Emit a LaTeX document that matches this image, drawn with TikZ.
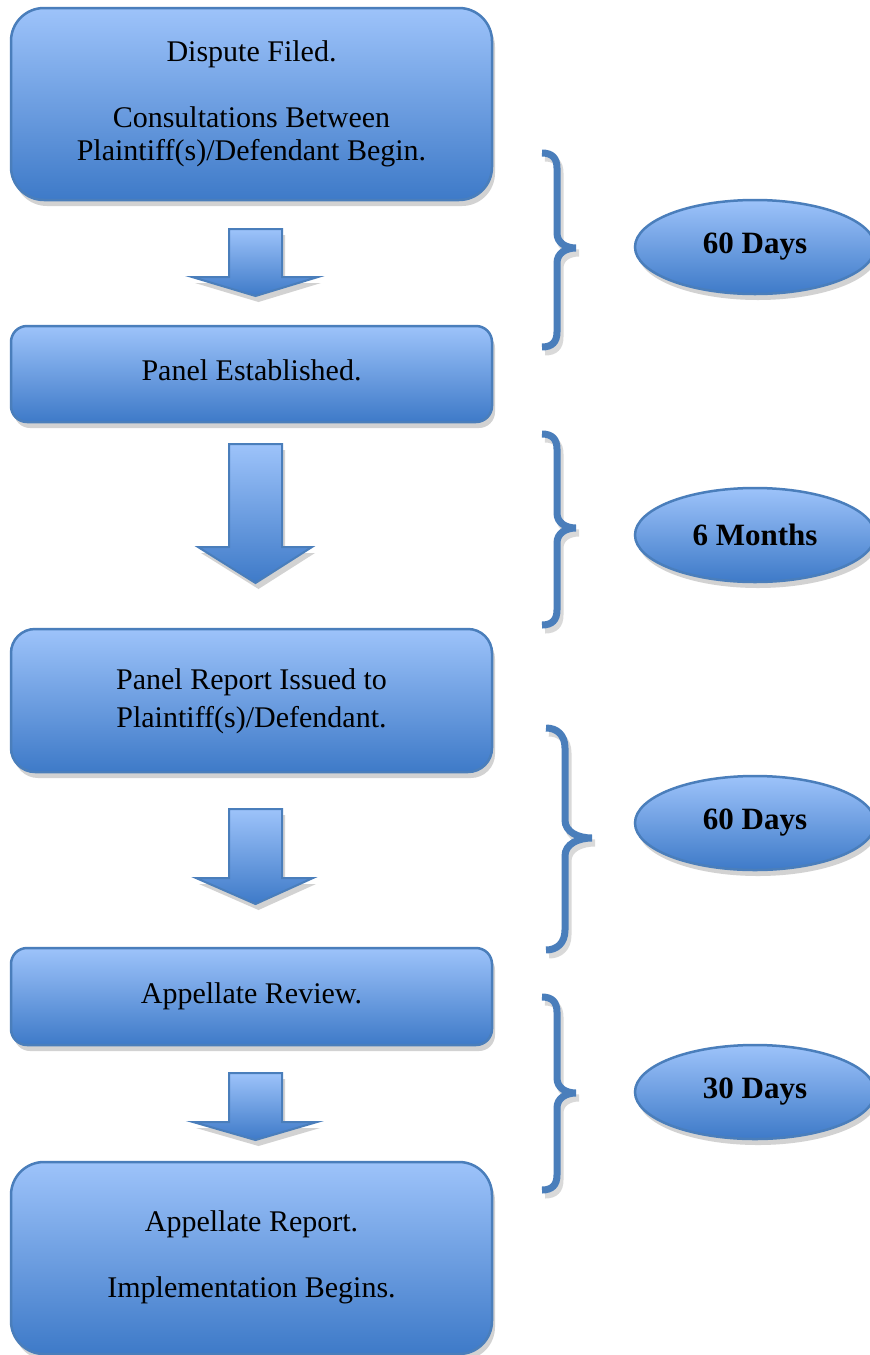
\documentclass[tikz,border=0pt]{standalone}
\usepackage{fontspec}
\setmainfont{Liberation Serif}
\usetikzlibrary{shapes.geometric,shadows}
\definecolor{edgeblue}{RGB}{74,126,187}
\definecolor{topblue}{RGB}{157,195,250}
\definecolor{botblue}{RGB}{62,122,200}
\tikzset{
  boxshadow/.style={drop shadow={shadow xshift=3pt,shadow yshift=-6pt,opacity=0.25,fill=black!70}},
  stepbox/.style={draw=edgeblue,line width=2.5pt,top color=topblue,bottom color=botblue,
    minimum width=481pt,inner sep=0pt,align=center,boxshadow,
    font=\fontsize{30}{33}\selectfont},
  timeoval/.style={ellipse,draw=edgeblue,line width=2.5pt,top color=topblue,bottom color=botblue,
    minimum width=240pt,minimum height=94pt,inner sep=0pt,boxshadow,
    font=\fontsize{31}{33}\selectfont\bfseries},
  blockarrow/.style={draw=edgeblue,line width=2pt,top color=topblue,bottom color=botblue,
    line join=miter,boxshadow},
  bracepath/.style={draw=edgeblue,line width=7pt},
  braceshadow/.style={draw=black,opacity=0.15,line width=7pt}
}
\newcommand\boxtext[2]{\raisebox{#1}{\begin{tabular}{@{}c@{}}#2\end{tabular}}}
\newcommand\mybraces[1]{%
  \path[#1] (542,153) .. controls (552,153) and (557,158) .. (557,168) -- (557,233)
     .. controls (557,243) and (566,248) .. (576,248)
     .. controls (566,248) and (557,253) .. (557,263) -- (557,332)
     .. controls (557,342) and (552,347) .. (542,347);
  \path[#1] (542,434) .. controls (552,434) and (557,439) .. (557,449) -- (557,513)
     .. controls (557,523) and (566,528) .. (576,528)
     .. controls (566,528) and (557,533) .. (557,543) -- (557,610)
     .. controls (557,620) and (552,625) .. (542,625);
  \path[#1] (546,728) .. controls (557,728) and (565,735) .. (565,748) -- (565,820)
     .. controls (565,832) and (578,838) .. (592,838)
     .. controls (578,838) and (565,844) .. (565,856) -- (565,930)
     .. controls (565,943) and (557,950) .. (546,950);
  \path[#1] (542,997) .. controls (552,997) and (557,1002) .. (557,1012) -- (557,1078)
     .. controls (557,1088) and (566,1093) .. (576,1093)
     .. controls (566,1093) and (557,1098) .. (557,1108) -- (557,1175)
     .. controls (557,1185) and (552,1190) .. (542,1190);
}
\begin{document}
\begin{tikzpicture}[x=1pt,y=-1pt]
\useasboundingbox (0,0) rectangle (870,1355);
\fill[white] (0,0) rectangle (870,1355);

% boxes
\node[stepbox,minimum height=192pt,rounded corners=33pt] (b1) at (251.5,104)
  {\boxtext{0pt}{Dispute Filed.\\[33pt]Consultations Between\\Plaintiff(s)/Defendant Begin.}};
\node[stepbox,minimum height=96pt,rounded corners=16pt] (b2) at (251.5,374)
  {\boxtext{4pt}{Panel Established.}};
\node[stepbox,minimum height=143pt,rounded corners=24pt,font=\fontsize{30}{38}\selectfont] (b3) at (251.5,700.5)
  {\boxtext{6pt}{Panel Report Issued to\\Plaintiff(s)/Defendant.}};
\node[stepbox,minimum height=97pt,rounded corners=16pt] (b4) at (251.5,996.5)
  {\boxtext{3pt}{Appellate Review.}};
\node[stepbox,minimum height=192pt,rounded corners=33pt] (b5) at (251.5,1258)
  {\boxtext{13pt}{Appellate Report.\\[33pt]Implementation Begins.}};

% block arrows
\path[blockarrow] (229,229) -- (282,229) -- (282,277) -- (318,277) -- (255.5,296) -- (192,277) -- (229,277) -- cycle;
\path[blockarrow] (229,444) -- (282,444) -- (282,547) -- (312,547) -- (255.5,583) -- (198,547) -- (229,547) -- cycle;
\path[blockarrow] (229,809) -- (282,809) -- (282,878) -- (313,878) -- (255.5,904) -- (196,878) -- (229,878) -- cycle;
\path[blockarrow] (229,1073) -- (282,1073) -- (282,1122) -- (317,1122) -- (255.5,1140) -- (193,1122) -- (229,1122) -- cycle;

% braces: soft shadow, then brace
\begin{scope}[shift={(3,5)}]
  \mybraces{braceshadow}
\end{scope}
\mybraces{bracepath}

% time ovals
\node[timeoval] (t1) at (755,247) {60 Days};
\node[timeoval] (t2) at (755,535) {6 Months};
\node[timeoval] (t3) at (755,823) {60 Days};
\node[timeoval] (t4) at (755,1092) {30 Days};
\end{tikzpicture}
\end{document}
